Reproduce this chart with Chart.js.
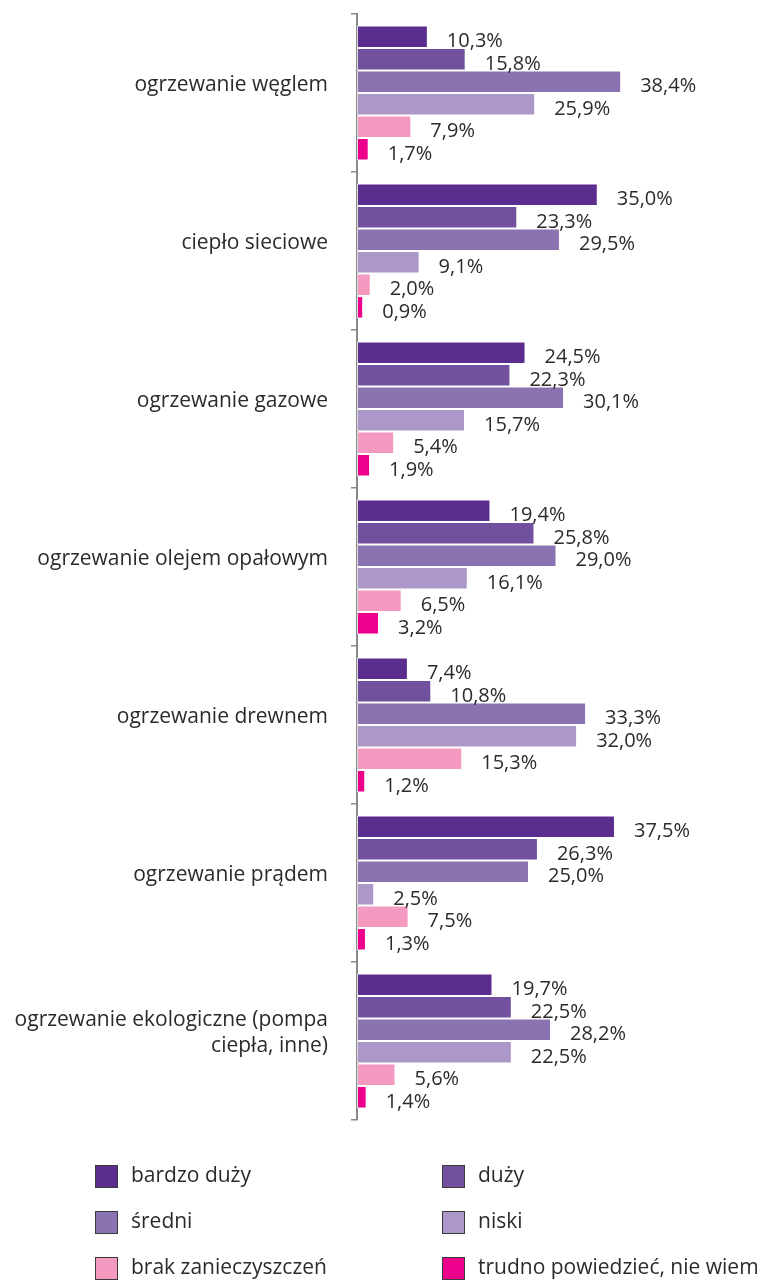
<!DOCTYPE html>
<html lang="pl">
<head>
<meta charset="utf-8">
<title>Ocena zanieczyszczeń wg sposobu ogrzewania</title>
<script src="https://cdn.jsdelivr.net/npm/chart.js@4.4.0/dist/chart.umd.min.js"></script>
<style>
  html, body { margin: 0; padding: 0; background: #fff; }
  #wrap { width: 761px; height: 1281px; }
</style>
</head>
<body>
<div id="wrap"><canvas id="myChart" width="761" height="1281"></canvas></div>
<script>
const categories = [
    'ogrzewanie węglem',
    'ciepło sieciowe',
    'ogrzewanie gazowe',
    'ogrzewanie olejem opałowym',
    'ogrzewanie drewnem',
    'ogrzewanie prądem',
    ['ogrzewanie ekologiczne (pompa', 'ciepła, inne)']
];

const seriesNames = ['bardzo duży', 'duży', 'średni', 'niski', 'brak zanieczyszczeń', 'trudno powiedzieć, nie wiem'];

const bardzoDuzy = [10.3, 35.0, 24.5, 19.4, 7.4, 37.5, 19.7];
const duzy       = [15.8, 23.3, 22.3, 25.8, 10.8, 26.3, 22.5];
const sredni     = [38.4, 29.5, 30.1, 29.0, 33.3, 25.0, 28.2];
const niski      = [25.9, 9.1, 15.7, 16.1, 32.0, 2.5, 22.5];
const brak       = [7.9, 2.0, 5.4, 6.5, 15.3, 7.5, 5.6];
const trudno     = [1.7, 0.9, 1.9, 3.2, 1.2, 1.3, 1.4];

const colors = ['#5b2d8e', '#71509d', '#8b72b0', '#ab97c8', '#f49ac1', '#ec008c'];

const FONT = '"Open Sans", "Noto Sans", sans-serif';

// values printed to the right of each bar, with a comma as decimal separator
const valueLabels = {
    id: 'valueLabels',
    afterDatasetsDraw(chart) {
        const ctx = chart.ctx;
        ctx.save();
        ctx.font = '20px ' + FONT;
        ctx.fillStyle = '#2b2b2b';
        ctx.textAlign = 'left';
        ctx.textBaseline = 'middle';
        chart.data.datasets.forEach((ds, i) => {
            const meta = chart.getDatasetMeta(i);
            meta.data.forEach((bar, j) => {
                const txt = ds.data[j].toFixed(1).replace('.', ',') + '%';
                ctx.fillText(txt, bar.x + 19, bar.y + 5);
            });
        });
        ctx.restore();
    }
};

// two-column legend under the plot
const bottomLegend = {
    id: 'bottomLegend',
    afterDraw(chart) {
        const ctx = chart.ctx;
        const colX = [95, 442];
        const rowY = [1176, 1222, 1268];
        ctx.save();
        ctx.font = '21px ' + FONT;
        ctx.textBaseline = 'middle';
        chart.data.datasets.forEach((ds, i) => {
            const x = colX[i % 2];
            const y = rowY[Math.floor(i / 2)];
            ctx.fillStyle = ds.backgroundColor;
            ctx.fillRect(x, y - 11, 23, 23);
            ctx.strokeStyle = '#3a3a3a';
            ctx.lineWidth = 1;
            ctx.strokeRect(x + 0.5, y - 10.5, 22, 22);
            ctx.fillStyle = '#2b2b2b';
            ctx.fillText(ds.label, x + 36, y);
        });
        ctx.restore();
    }
};

const seriesData = [bardzoDuzy, duzy, sredni, niski, brak, trudno];

const data = {
    labels: categories,
    datasets: seriesData.map((vals, i) => ({
        label: seriesNames[i],
        data: vals,
        backgroundColor: colors[i],
        borderColor: 'rgba(255,255,255,0.7)',
        borderWidth: 1,
        borderSkipped: false,
        barPercentage: 1.0,
        categoryPercentage: 0.855
    }))
};

const myChart = new Chart(document.getElementById('myChart'), {
    type: 'bar',
    data: data,
    options: {
        indexAxis: 'y',
        responsive: false,
        animation: false,
        layout: {
            padding: { top: 14, right: 5, bottom: 161, left: 0 }
        },
        plugins: {
            legend: { display: false },
            tooltip: { enabled: false }
        },
        scales: {
            x: {
                display: false,
                min: 0,
                max: 58
            },
            y: {
                afterFit(scale) {
                    scale.width = 357;
                    scale.paddingTop = 0;
                    scale.paddingBottom = 0;
                },
                grid: {
                    drawOnChartArea: false,
                    drawTicks: true,
                    tickLength: 6,
                    color: '#8a8a8a',
                    lineWidth: 1.5
                },
                border: { color: '#8a8a8a', width: 2 },
                ticks: {
                    color: '#2b2b2b',
                    padding: 23,
                    labelOffset: -8,
                    font: { family: FONT, size: 21 }
                }
            }
        }
    },
    plugins: [valueLabels, bottomLegend]
});
</script>
</body>
</html>
